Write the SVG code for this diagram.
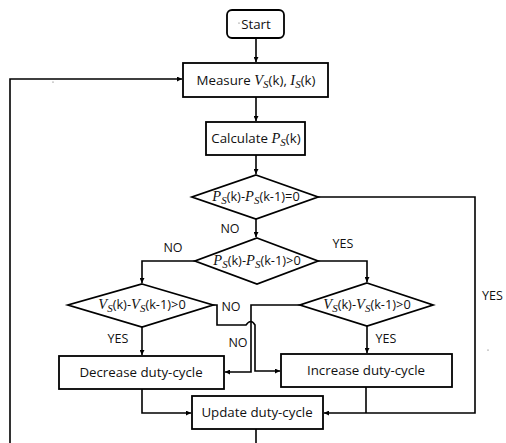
<svg xmlns="http://www.w3.org/2000/svg" width="506" height="443" viewBox="0 0 506 443">
<style>
.box{fill:#fff;stroke:#000;stroke-width:1.8}
.ln{fill:none;stroke:#000;stroke-width:1.6}
.t{font-family:"Open Sans","Liberation Sans",sans-serif;font-size:13.3px;fill:#111}
.d{font-family:"Open Sans","Liberation Sans",sans-serif;font-size:12.8px;fill:#111}
.l{font-family:"Open Sans","Liberation Sans",sans-serif;font-size:12.5px;fill:#111}
.m{font-family:"Liberation Serif",serif;font-style:italic;font-size:14.5px}
.s{font-family:"Liberation Serif",serif;font-style:italic;font-size:11px}
</style>
<defs>
<marker id="a" viewBox="0 0 8 8" refX="8" refY="4" markerWidth="5" markerHeight="5" orient="auto" markerUnits="userSpaceOnUse"><path d="M0,0L8,4L0,8z" fill="#000"/></marker>
</defs>
<rect width="506" height="443" fill="#fff"/>
<g id="connectors">
<path class="ln" d="M256,38V62" marker-end="url(#a)"/>
<path class="ln" d="M256,97V121" marker-end="url(#a)"/>
<path class="ln" d="M256,155V174" marker-end="url(#a)"/>
<path class="ln" d="M256,219V237" marker-end="url(#a)"/>
<path class="ln" d="M195,261H142V283" marker-end="url(#a)"/>
<path class="ln" d="M318,261H367V282" marker-end="url(#a)"/>
<path class="ln" d="M142,327V355" marker-end="url(#a)"/>
<path class="ln" d="M367,326V353" marker-end="url(#a)"/>
<path class="ln" d="M213,305H217V325H246Q251,318 255,325V371H280" marker-end="url(#a)"/>
<path class="ln" d="M300,305H251V372H225" marker-end="url(#a)"/>
<path class="ln" d="M142,389V413H191" marker-end="url(#a)"/>
<path class="ln" d="M366,387V413"/>
<path class="ln" d="M318,197H475V413H324" marker-end="url(#a)"/>
<path class="ln" d="M256,429V443"/>
<path class="ln" d="M10,443V79H182" marker-end="url(#a)"/>
</g>
<g id="start"><rect class="box" x="227" y="10" width="57" height="28" rx="5"/><text class="t" x="256" y="29" text-anchor="middle">Start</text></g>
<g id="measure"><rect class="box" x="183" y="63" width="145" height="34"/><text class="t" x="256" y="85" text-anchor="middle">Measure <tspan class="m">V</tspan><tspan class="s" dy="3">S</tspan><tspan dy="-3">(k), </tspan><tspan class="m">I</tspan><tspan class="s" dy="3">S</tspan><tspan dy="-3">(k)</tspan></text></g>
<g id="calculate"><rect class="box" x="206" y="122" width="99" height="33"/><text class="t" x="256" y="143" text-anchor="middle">Calculate <tspan class="m">P</tspan><tspan class="s" dy="3">S</tspan><tspan dy="-3">(k)</tspan></text></g>
<g id="d1"><path class="box" d="M256,175L318,197L256,219L192,197z"/><text class="d" x="256" y="201" text-anchor="middle"><tspan class="m">P</tspan><tspan class="s" dy="3">S</tspan><tspan dy="-3">(k)-</tspan><tspan class="m">P</tspan><tspan class="s" dy="3">S</tspan><tspan dy="-3">(k-1)=0</tspan></text></g>
<g id="d2"><path class="box" d="M257,238L318,261L257,284L195,261z"/><text class="d" x="257" y="265" text-anchor="middle"><tspan class="m">P</tspan><tspan class="s" dy="3">S</tspan><tspan dy="-3">(k)-</tspan><tspan class="m">P</tspan><tspan class="s" dy="3">S</tspan><tspan dy="-3">(k-1)&gt;0</tspan></text></g>
<g id="d3"><path class="box" d="M142,284L213,305L142,327L68,305z"/><text class="d" x="142" y="309" text-anchor="middle"><tspan class="m">V</tspan><tspan class="s" dy="3">S</tspan><tspan dy="-3">(k)-</tspan><tspan class="m">V</tspan><tspan class="s" dy="3">S</tspan><tspan dy="-3">(k-1)&gt;0</tspan></text></g>
<g id="d4"><path class="box" d="M367,283L433,305L367,326L300,305z"/><text class="d" x="367" y="309" text-anchor="middle"><tspan class="m">V</tspan><tspan class="s" dy="3">S</tspan><tspan dy="-3">(k)-</tspan><tspan class="m">V</tspan><tspan class="s" dy="3">S</tspan><tspan dy="-3">(k-1)&gt;0</tspan></text></g>
<g id="decrease"><rect class="box" x="59" y="356" width="165" height="33"/><text class="t" x="141" y="377" text-anchor="middle">Decrease duty-cycle</text></g>
<g id="increase"><rect class="box" x="281" y="354" width="171" height="33"/><text class="t" x="366" y="375" text-anchor="middle">Increase duty-cycle</text></g>
<g id="update"><rect class="box" x="192" y="396" width="131" height="33"/><text class="t" x="257" y="417" text-anchor="middle">Update duty-cycle</text></g>
<g id="labels">
<text class="l" x="230" y="233" text-anchor="middle">NO</text>
<text class="l" x="173" y="252" text-anchor="middle">NO</text>
<text class="l" x="343" y="248" text-anchor="middle">YES</text>
<text class="l" x="118" y="343" text-anchor="middle">YES</text>
<text class="l" x="386" y="343" text-anchor="middle">YES</text>
<text class="l" x="231" y="311" text-anchor="middle">NO</text>
<text class="l" x="238" y="347" text-anchor="middle">NO</text>
<text class="l" x="482" y="300">YES</text>
</g>
<circle cx="239" cy="23" r="0.6" fill="#555"/>
<circle cx="53" cy="82" r="0.6" fill="#555"/>
<circle cx="488" cy="350" r="0.6" fill="#555"/>
</svg>
